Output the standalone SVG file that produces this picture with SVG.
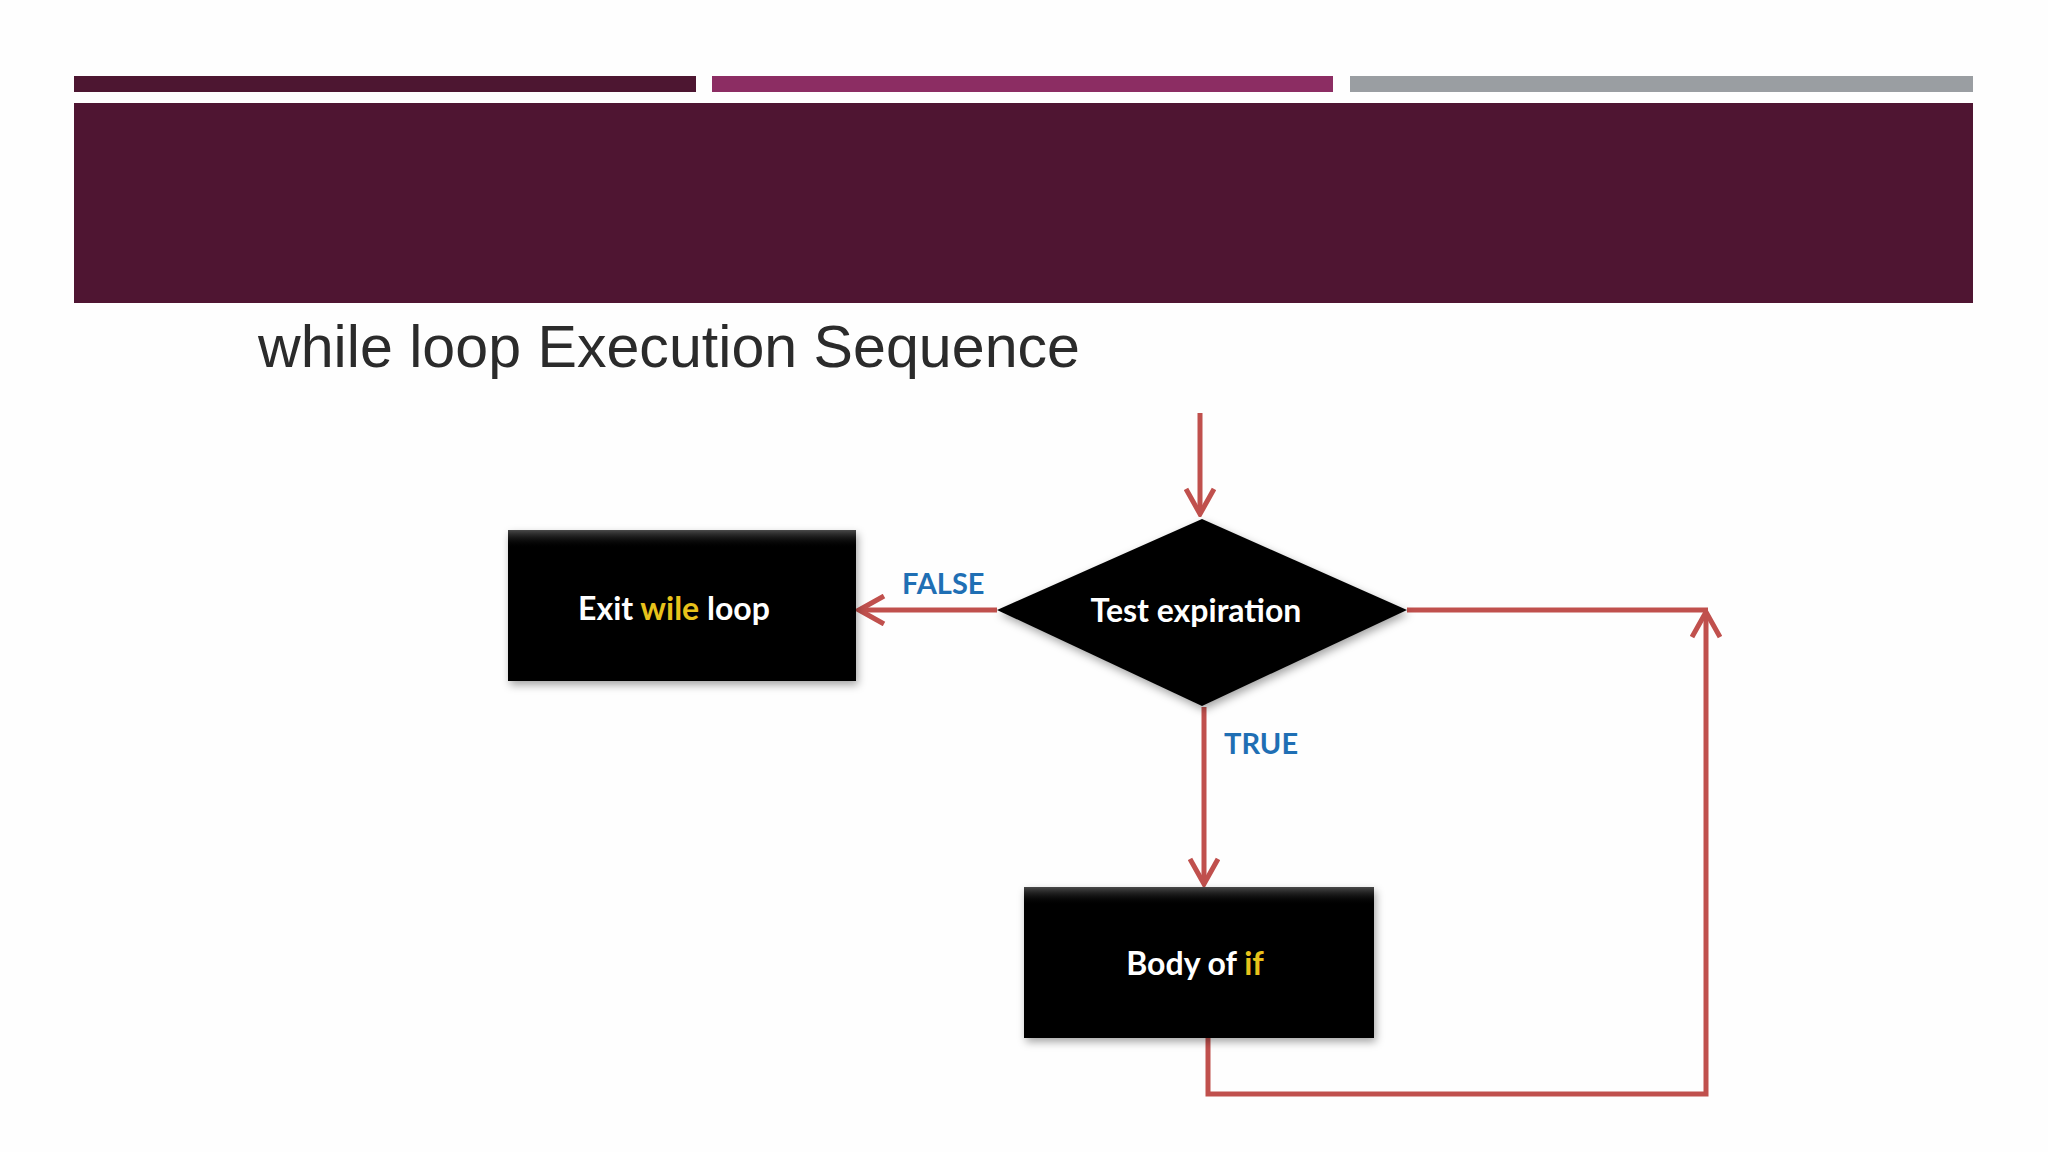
<svg xmlns="http://www.w3.org/2000/svg" width="2048" height="1152" viewBox="0 0 2048 1152">
  <defs>
    <style>
      .conn { fill: none; stroke: #c0504d; stroke-width: 5; stroke-linejoin: miter; }
      .node { fill: #000; filter: url(#shadow); }
      .lbl { font-family: Lato, "Open Sans", sans-serif; font-weight: bold; font-size: 32px; fill: #ffffff; text-anchor: middle; }
      .yel { fill: #e8c21b; }
      .edge { font-family: Lato, "Open Sans", sans-serif; font-weight: bold; font-size: 29px; fill: #1f6fb4; }
      .title { font-family: "Liberation Sans", Arial, sans-serif; font-size: 59px; fill: #2b2b2b; }
    </style>
    <filter id="shadow" x="-10%" y="-10%" width="120%" height="130%">
      <feDropShadow dx="2" dy="4" stdDeviation="4" flood-color="#000" flood-opacity="0.35"/>
    </filter>
    <linearGradient id="bevelTop" x1="0" y1="0" x2="0" y2="1">
      <stop offset="0" stop-color="#4a4a4a"/>
      <stop offset="1" stop-color="#000" stop-opacity="0"/>
    </linearGradient>
    <marker id="arrow" markerUnits="userSpaceOnUse" markerWidth="30" markerHeight="32" viewBox="0 0 30 32" refX="27" refY="16" orient="auto">
      <path d="M2,2 L27,16 L2,30" fill="none" stroke="#c0504d" stroke-width="5"/>
    </marker>
  </defs>

  <rect x="0" y="0" width="2048" height="1152" fill="#fefefe"/>

  <g id="header">
    <rect x="74" y="76" width="622" height="16" fill="#4d1631"/>
    <rect x="712" y="76" width="621" height="16" fill="#8c2d63"/>
    <rect x="1350" y="76" width="623" height="16" fill="#9a9ea2"/>
    <rect x="74" y="103" width="1899" height="200" fill="#4f1532"/>
  </g>

  <text class="title" x="258" y="367" textLength="822" lengthAdjust="spacingAndGlyphs">while loop Execution Sequence</text>

  <g id="connectors">
    <path class="conn" d="M1200,413 L1200,514" marker-end="url(#arrow)"/>
    <path class="conn" d="M997,610 L859,610" marker-end="url(#arrow)"/>
    <path class="conn" d="M1204,707 L1204,884" marker-end="url(#arrow)"/>
    <path class="conn" d="M1407,610 L1708,610"/>
    <path class="conn" d="M1208,1037 L1208,1094 L1706,1094 L1706,612" marker-end="url(#arrow)"/>
    <text class="edge" x="902" y="594">FALSE</text>
    <text class="edge" x="1224" y="754">TRUE</text>
  </g>

  <g id="exit-node">
    <rect class="node" x="508" y="530" width="348" height="151"/>
    <rect x="508" y="530" width="348" height="18" fill="url(#bevelTop)"/>
    <text class="lbl" x="674" y="620">Exit <tspan class="yel">wile</tspan> loop</text>
  </g>

  <g id="test-node">
    <polygon class="node" points="997,610 1202,519 1407,610 1202,706"/>
    <text class="lbl" x="1196" y="622">Test expiration</text>
  </g>

  <g id="body-node">
    <rect class="node" x="1024" y="887" width="350" height="151"/>
    <rect x="1024" y="887" width="350" height="18" fill="url(#bevelTop)"/>
    <text class="lbl" x="1195" y="975">Body of <tspan class="yel">if</tspan></text>
  </g>
</svg>
